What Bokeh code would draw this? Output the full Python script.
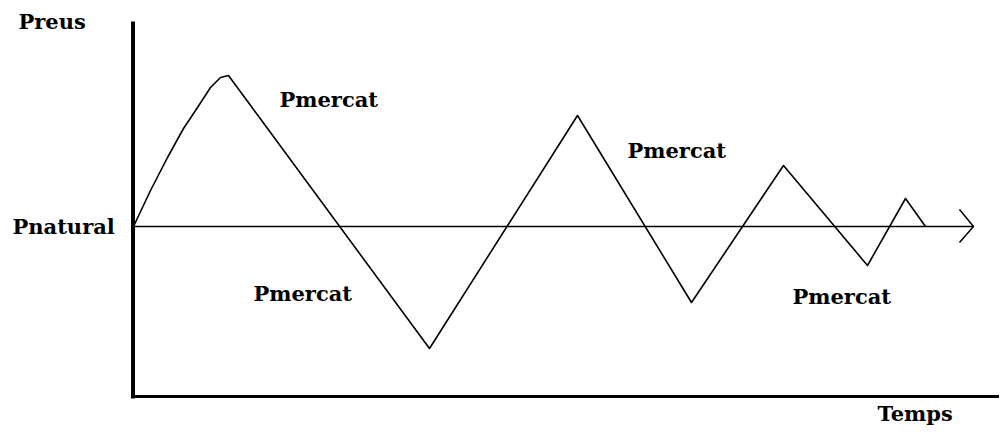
from bokeh.plotting import figure
from bokeh.models import Range1d
from bokeh.core.properties import value
from bokeh.embed import file_html
from bokeh.resources import INLINE

# Market price path (time, price relative to the natural price)
time = [0, 17, 34, 50, 64, 77, 87, 95, 296, 444, 558, 650, 734, 772, 792]
price = [0, 36, 69, 98, 119, 139, 149, 151, -122, 111, -76, 61, -39, 28, 0]

# Natural price reference line
natural_time = [0, 840]
natural_price = [0, 0]

# Labels
label_text = ["Pmercat", "Pmercat", "Pmercat", "Pmercat"]
label_time = [146, 494, 120, 659]
label_price = [127, 76, -67, -70]

FONT = value("DejaVu Serif")

p = figure(width=999, height=426, output_backend="svg", toolbar_location=None,
           x_range=Range1d(-133, 866), y_range=Range1d(-200, 226),
           min_border=0, outline_line_color=None)
p.axis.visible = False
p.grid.visible = False
p.background_fill_color = "white"
p.border_fill_color = "white"

# axes
p.line([-0.5, -0.5], [205, -172], line_color="black", line_width=4)
p.line([-2.5, 866], [-170, -170], line_color="black", line_width=3)

# natural price line with open arrow head
p.line(natural_time, natural_price, line_color="black", line_width=1.5)
tip = natural_time[-1]
p.line([tip - 14, tip, tip - 14], [17, 0, -16], line_color="black", line_width=1.5)

# market price zigzag
p.line(time, price, line_color="black", line_width=1.6, line_join="round")

# labels
p.text(x=label_time, y=label_price, text=label_text, text_font=FONT,
       text_font_style="bold", text_font_size="21px", text_color="black",
       text_align="left", text_baseline="middle")
p.text(x=[-121], y=[0], text=["Pnatural"], text_font=FONT,
       text_font_style="bold", text_font_size="21px", text_color="black",
       text_align="left", text_baseline="middle")
p.text(x=[-115], y=[205], text=["Preus"], text_font=FONT,
       text_font_style="bold", text_font_size="21px", text_color="black",
       text_align="left", text_baseline="middle")
p.text(x=[744], y=[-187], text=["Temps"], text_font=FONT,
       text_font_style="bold", text_font_size="21px", text_color="black",
       text_align="left", text_baseline="middle")

open("out.html", "w").write(file_html(p, INLINE))
